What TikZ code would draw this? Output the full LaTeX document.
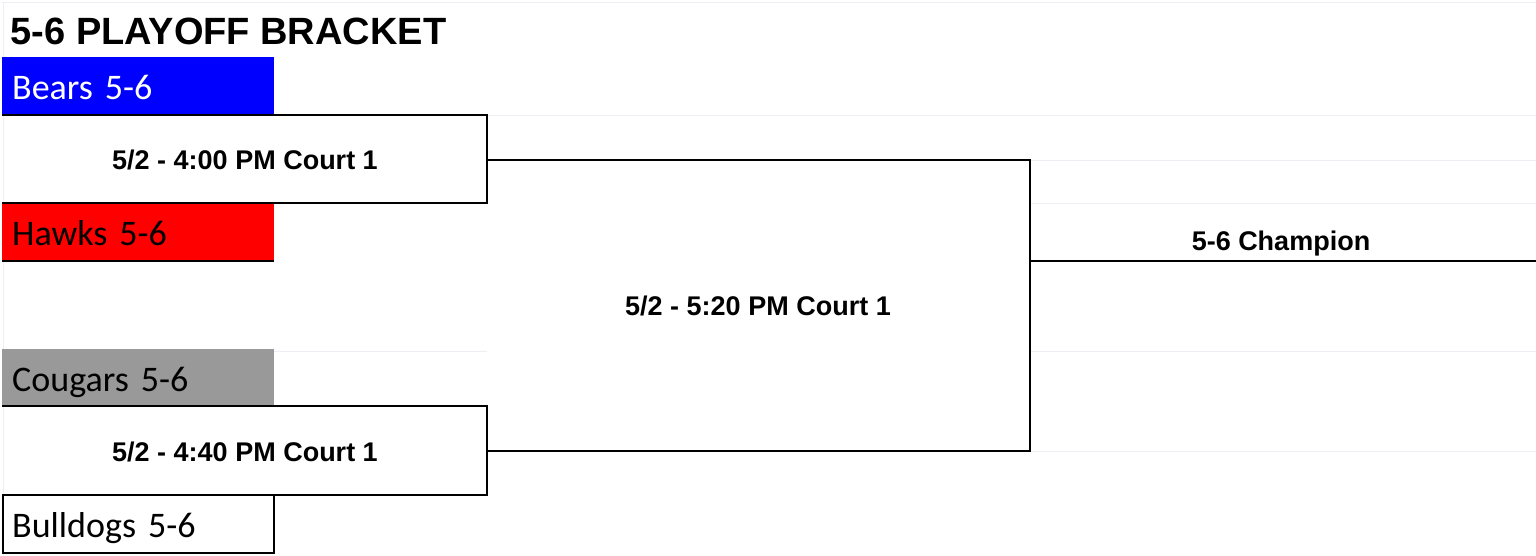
\documentclass[tikz,border=0pt]{standalone}
\usepackage{fontspec}
\setmainfont{Liberation Sans}
\newfontfamily\teamfont{Carlito}
\definecolor{gridc}{RGB}{238,238,244}
\definecolor{bearsblue}{RGB}{0,0,255}
\definecolor{hawksred}{RGB}{255,0,0}
\definecolor{cougargray}{RGB}{153,153,153}
\tikzset{
  team/.style={rectangle, anchor=north west, inner xsep=10pt, inner ysep=0pt,
    text width=252pt, align=left, minimum height=58pt,
    text height=31pt, text depth=4pt,
    font=\teamfont\fontsize{36}{40}\selectfont},
  gamebox/.style={rectangle, inner sep=0pt, anchor=north west},
  gametext/.style={font=\bfseries\fontsize{27}{30}\selectfont, inner sep=0pt},
  bline/.style={draw=black, line width=2pt},
  gline/.style={draw=gridc, line width=1pt}
}
\begin{document}
\begin{tikzpicture}[x=1pt,y=-1pt]
\useasboundingbox (0,0) rectangle (1536,556);
\fill[white] (0,0) rectangle (1536,556);
% faint spreadsheet grid
\draw[gline] (2,3) -- (1536,3);
\draw[gline] (3,3) -- (3,556);
\draw[gline] (487,115.5) -- (1536,115.5);
\draw[gline] (1030,161) -- (1536,161);
\draw[gline] (1030,204) -- (1536,204);
\draw[gline] (274,351) -- (487,351);
\draw[gline] (1030,351) -- (1536,351);
\draw[gline] (1030,451) -- (1536,451);
% title
\node[anchor=base west, inner sep=0pt, font=\bfseries\fontsize{38}{40}\selectfont] (title) at (10.5,45) {5-6 PLAYOFF BRACKET};
% teams
\node[team, fill=bearsblue, text=white] (bears) at (2,57) {Bears 5-6};
\node[team, fill=hawksred] (hawks) at (2,203) {Hawks 5-6};
\node[team, fill=cougargray] (cougars) at (2,349) {Cougars 5-6};
\node[team, text width=253pt, inner xsep=9pt] (bulldogs) at (3,495) {Bulldogs 5-6};
\draw[bline] (bulldogs.north west) rectangle (bulldogs.south east);
\draw[bline] (hawks.south west) -- (hawks.south east);
% first-round games
\node[gamebox, minimum width=485pt, minimum height=88pt] (g1) at (2,115) {};
\node[gamebox, minimum width=485pt, minimum height=89pt] (g2) at (2,406) {};
\node[gametext] (g1t) at (245,160) {5/2 - 4:00 PM Court 1};
\node[gametext] (g2t) at (245,452) {5/2 - 4:40 PM Court 1};
\draw[bline] (g1.north west) -- (g1.north east) -- (g1.south east) -- (g1.south west);
\draw[bline] (g2.north west) -- (g2.north east) -- (g2.south east) -- (g2.south west);
% final
\node[gamebox, minimum width=543pt, minimum height=291pt] (g3) at (487,160) {};
\node[gametext] (g3t) at (758,306) {5/2 - 5:20 PM Court 1};
\draw[bline] (g1.east |- g3.north) -- (g3.north east) -- (g3.south east) -- (g2.east |- g3.south);
% champion
\node[gametext, anchor=base] (champ) at (1281,251) {5-6 Champion};
\coordinate (champend) at (1536,261);
\draw[bline] (champend -| g3.east) -- (champend);
\end{tikzpicture}
\end{document}
